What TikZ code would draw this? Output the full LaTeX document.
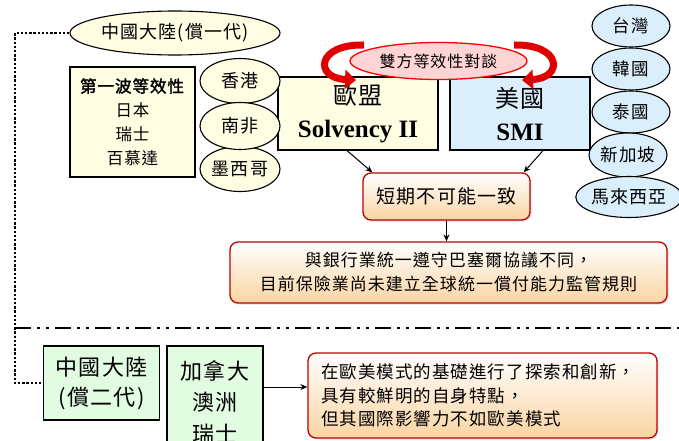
\documentclass[tikz,border=0pt]{standalone}
\usepackage{fontspec}
\setmainfont{Liberation Serif}
\newfontfamily\cjk{Noto Sans CJK TC}[LetterSpace=6,AutoFakeBold=2]
\usetikzlibrary{shapes.geometric,arrows.meta,shadows,calc}
\definecolor{yelfill}{RGB}{255,253,226}
\definecolor{bluefill}{RGB}{218,238,252}
\definecolor{greenfill}{RGB}{226,252,226}
\definecolor{orangefill}{RGB}{250,212,162}
\definecolor{darkred}{RGB}{192,0,0}
\definecolor{pinkfill}{RGB}{255,212,212}
\definecolor{ribbon}{RGB}{225,0,0}
\tikzset{
  every node/.style={inner sep=2pt},
  ell/.style={ellipse, draw=black, line width=1.1pt, inner sep=0pt},
  sqbox/.style={draw=black, line width=1.2pt, inner sep=0pt},
  redbox/.style={draw=darkred, line width=1.3pt, rounded corners=8pt, top color=white, bottom color=orangefill,
     drop shadow={shadow xshift=1.5pt, shadow yshift=-1.5pt, opacity=0.25}, inner sep=0pt},
  arr/.style={-{Stealth[length=7pt,width=6pt]}, line width=1pt, black},
  rarrow/.style={-{Triangle[length=11pt,width=19pt]}, line width=7pt, ribbon},
  dotline/.style={line width=2.4pt, dash pattern=on 2.4pt off 1.8pt, black},
  dashdot/.style={line width=2.2pt, dash pattern=on 16pt off 6pt on 3pt off 6pt on 3pt off 6pt, black},
}
\begin{document}
\begin{tikzpicture}[x=1pt,y=-1pt]
\useasboundingbox (0,0) rectangle (679,441);
\clip (0,0) rectangle (679,441);

% top ellipse
\node[ell, fill=yelfill, minimum width=210pt, minimum height=44pt, font=\cjk\fontsize{18}{20}\selectfont] (cn1) at (175,33) {中國大陸(償一代)};

% first wave box
\node[sqbox, fill=yelfill, minimum width=125pt, minimum height=110pt, align=center,
      font=\cjk\fontsize{16.5}{24}\selectfont] (fw) at (132.5,122)
      {\textbf{第一波等效性}\\日本\\瑞士\\百慕達};

% EU and US boxes
\node[sqbox, fill=yelfill, minimum width=160pt, minimum height=73pt, align=center,
      font=\fontsize{24}{33}\selectfont] (eu) at (358,113.5)
  {{\cjk 歐盟}\\{\fontsize{25}{33}\selectfont\bfseries Solvency II}};
\node[sqbox, fill=bluefill, minimum width=140pt, minimum height=73pt, align=center,
      font=\fontsize{24}{33}\selectfont] (us) at (520,113.5)
  {{\cjk 美國}\\{\fontsize{25}{33}\selectfont\bfseries SMI}};

% left ellipses
\node[ell, fill=yelfill, minimum width=80pt, minimum height=45pt, font=\cjk\fontsize{18}{20}\selectfont] (hk) at (240,81) {香港};
\node[ell, fill=yelfill, minimum width=80pt, minimum height=45pt, font=\cjk\fontsize{18}{20}\selectfont] (mx) at (240,169) {墨西哥};
\node[ell, fill=yelfill, minimum width=80pt, minimum height=47pt, font=\cjk\fontsize{18}{20}\selectfont] (za) at (240,126) {南非};

% right ellipses
\node[ell, fill=bluefill, minimum width=78pt, minimum height=42pt, font=\cjk\fontsize{17.5}{20}\selectfont] (tw) at (631,26) {台灣};
\node[ell, fill=bluefill, minimum width=78pt, minimum height=42pt, font=\cjk\fontsize{17.5}{20}\selectfont] (kr) at (631,69) {韓國};
\node[ell, fill=bluefill, minimum width=78pt, minimum height=42pt, font=\cjk\fontsize{17.5}{20}\selectfont] (th) at (631,112) {泰國};
\node[ell, fill=bluefill, minimum width=78pt, minimum height=44pt, font=\cjk\fontsize{17.5}{20}\selectfont] (sg) at (628,155) {新加坡};
\node[ell, fill=bluefill, minimum width=98pt, minimum height=41pt, font=\cjk\fontsize{18}{20}\selectfont] (my) at (629,197) {馬來西亞};

% red curved arrows
\coordinate (la) at (364,45);
\coordinate (lb) at (356,80);
\coordinate (ra) at (514,45);
\coordinate (rb2) at (522,80);
\draw[rarrow] (la) .. controls (316,44) and (314,78) .. (lb);
\draw[rarrow] (ra) .. controls (562,44) and (564,78) .. (rb2);

% red ellipse
\node[ellipse, draw=red, line width=1.3pt, fill=pinkfill, minimum width=177pt, minimum height=37pt,
      inner sep=0pt, font=\cjk\fontsize{16}{18}\selectfont] (talk) at (438.5,61) {雙方等效性對談};

% short-term box
\node[redbox, minimum width=167pt, minimum height=47pt, font=\cjk\fontsize{19}{22}\selectfont] (sd) at (446.5,196.5) {短期不可能一致};
\draw[arr] ([xshift=-11pt]eu.south) -- ([xshift=10pt]sd.north west);
\draw[arr] ([xshift=23pt]us.south) -- ([xshift=-7pt]sd.north east);

% big box
\node[redbox, minimum width=437pt, minimum height=61pt, align=center, font=\cjk\fontsize{17}{24}\selectfont] (bb) at (448.5,272.5)
  {與銀行業統一遵守巴塞爾協議不同，\\目前保險業尚未建立全球統一償付能力監管規則};
\draw[arr] (sd.south) -- (sd.south |- bb.north);

% bottom green boxes
\node[sqbox, fill=greenfill, minimum width=116pt, minimum height=74pt, align=center, font=\cjk\fontsize{22}{30}\selectfont] (g1) at (101.5,383) {中國大陸\\(償二代)};
\node[sqbox, fill=greenfill, minimum width=96pt, minimum height=112pt, align=center, font=\cjk\fontsize{22}{31.5}\selectfont] (g2) at (215,402) {加拿大\\澳洲\\瑞士};

% bottom red box
\node[redbox, minimum width=349pt, minimum height=85pt, align=left, text width=323pt, font=\cjk\fontsize{17.5}{23.5}\selectfont] (rbx) at (482.5,395.5)
  {在歐美模式的基礎進行了探索和創新，\\具有較鮮明的自身特點，\\但其國際影響力不如歐美模式};
\coordinate (ay) at (0,387);
\draw[arr] (g2.east |- ay) -- (rbx.west |- ay);

% dotted connector and dash-dot separator
\coordinate (c1) at (15,33);
\coordinate (c2) at (15,383);
\draw[dotline] (cn1.west) -- (c1) -- (c2) -- (g1.west);
\coordinate (s1) at (15,328);
\coordinate (s2) at (679,328);
\draw[dashdot] (s1) -- (s2);
\end{tikzpicture}
\end{document}
